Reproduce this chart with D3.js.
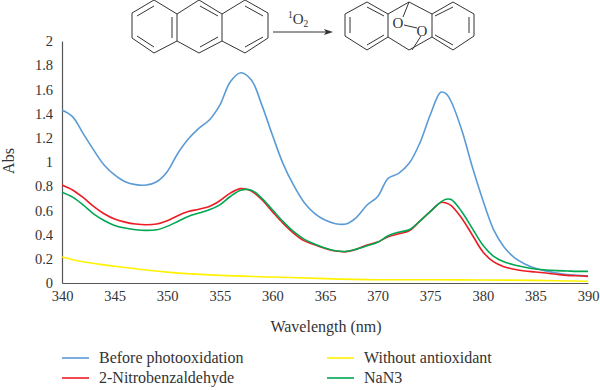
<!DOCTYPE html>
<html>
<head>
<meta charset="utf-8">
<script src="https://cdn.jsdelivr.net/npm/d3@7.9.0/dist/d3.min.js"></script>
<style>
  html, body { margin: 0; padding: 0; background: #fff; }
  svg { display: block; }
  text { font-family: "Liberation Serif", serif; fill: #333; }
</style>
</head>
<body>
<svg id="chart" width="600" height="390"></svg>
<script>
// readings
const wavelengths = [340,341,342,343,344,345,346,347,348,349,350,351,352,353,354,355,356,357,358,359,360,361,362,363,364,365,366,367,368,369,370,371,372,373,374,375,376,376.5,377,378,379,380,381,382,383,384,385,386,387,388,389,390];
const beforePhoto = [1.43,1.375,1.237,1.10,0.975,0.893,0.837,0.813,0.81,0.837,0.92,1.07,1.19,1.278,1.347,1.47,1.664,1.738,1.678,1.47,1.223,0.989,0.81,0.668,0.576,0.52,0.49,0.488,0.543,0.645,0.713,0.865,0.906,0.989,1.154,1.388,1.576,1.565,1.498,1.264,0.96,0.686,0.446,0.30,0.21,0.157,0.121,0.099,0.083,0.07,0.063,0.058];
const nitrobenz = [0.81,0.769,0.707,0.633,0.572,0.528,0.503,0.487,0.481,0.487,0.514,0.556,0.59,0.61,0.633,0.68,0.743,0.78,0.76,0.688,0.59,0.495,0.413,0.35,0.316,0.286,0.264,0.258,0.28,0.314,0.338,0.382,0.407,0.432,0.51,0.59,0.665,0.661,0.64,0.535,0.397,0.259,0.176,0.135,0.113,0.099,0.091,0.082,0.072,0.063,0.06,0.055];
const nan3 = [0.75,0.71,0.646,0.572,0.517,0.476,0.454,0.44,0.435,0.44,0.468,0.509,0.55,0.578,0.605,0.646,0.715,0.767,0.767,0.70,0.605,0.51,0.426,0.363,0.322,0.289,0.267,0.261,0.28,0.308,0.336,0.39,0.42,0.44,0.51,0.59,0.669,0.692,0.69,0.589,0.452,0.314,0.223,0.176,0.149,0.13,0.116,0.107,0.102,0.099,0.096,0.096];
const yellowWavelengths = [340,342,345,350,355,360,365,370,375,380,385,390];
const withoutAnti = [0.215,0.175,0.138,0.09,0.063,0.05,0.036,0.027,0.027,0.025,0.022,0.014];

const xTicks = [340,345,350,355,360,365,370,375,380,385,390];
const yTicks = [0,0.2,0.4,0.6,0.8,1,1.2,1.4,1.6,1.8,2];

const blue = "#5b9bd5", red = "#ed1c24", green = "#00a651", yellow = "#fff200";

const svg = d3.select("#chart");
const x = d3.scaleLinear().domain([340, 390]).range([62, 588]);
const y = d3.scaleLinear().domain([0, 2]).range([283, 41]);

// axes
const xAxis = svg.append("g").attr("transform", "translate(0,283)")
    .call(d3.axisBottom(x).tickValues(xTicks).tickSize(0).tickPadding(8).tickFormat(d3.format("d")));
const yAxis = svg.append("g").attr("transform", "translate(62,0)")
    .call(d3.axisLeft(y).tickValues(yTicks).tickSize(0).tickPadding(9).tickFormat(d => String(d)));
[xAxis, yAxis].forEach(a => {
    a.select(".domain").attr("stroke", "#555").attr("stroke-width", 1.2);
    a.selectAll("text").attr("font-size", 14.5).style("font-family", '"Liberation Serif", serif').style("fill", "#333");
});

svg.append("text").attr("x", 326).attr("y", 332).attr("text-anchor", "middle").attr("font-size", 16).text("Wavelength (nm)");
svg.append("text").attr("transform", "translate(14,161) rotate(-90)").attr("text-anchor", "middle").attr("font-size", 16).text("Abs");

// curves
const line = d3.line().curve(d3.curveCatmullRom.alpha(0.5))
    .x(d => x(d[0])).y(d => y(d[1]));
const series = [
    { xs: yellowWavelengths, ys: withoutAnti, color: yellow },
    { xs: wavelengths, ys: beforePhoto, color: blue },
    { xs: wavelengths, ys: nitrobenz, color: red },
    { xs: wavelengths, ys: nan3, color: green }
];
series.forEach(s => {
    svg.append("path")
       .attr("d", line(s.xs.map((w, i) => [w, s.ys[i]])))
       .attr("fill", "none")
       .attr("stroke", s.color)
       .attr("stroke-width", 1.6);
});

// legend
const legend = [
    ["Before photooxidation", blue, 62, 363],
    ["2-Nitrobenzaldehyde", red, 62, 383],
    ["Without antioxidant", yellow, 327, 363],
    ["NaN3", green, 327, 383]
];
legend.forEach(([name, color, lx, ly]) => {
    svg.append("line").attr("x1", lx).attr("x2", lx + 27).attr("y1", ly - 5).attr("y2", ly - 5)
       .attr("stroke", color).attr("stroke-width", 1.6);
    svg.append("text").attr("x", lx + 37).attr("y", ly).attr("font-size", 16).text(name);
});

// reaction scheme
const scheme = svg.append("g").attr("fill", "none").attr("stroke", "#333").attr("stroke-width", 1);
function path(d) { scheme.append("path").attr("d", d); }

// anthracene
path("M132,13 L154,0 L177,14 L199,0 L222,14 L245,0 L268,13 L268,38 L245,53 L222,41 L199,53 L177,41 L154,53 L132,38 Z");
path("M177,14 L177,41 M222,14 L222,41");
path("M137,16 L154,6 M137,36 L154,47 M172,17 L172,38 M200,6 L218,16 M200,47 L218,37 M245,6 L263,16 M245,47 L263,37");

// arrow
path("M273,32 L328,32");
svg.append("path").attr("d", "M333,32 L324,29 L326,32 L324,35 Z").attr("fill", "#333");
svg.append("text").attr("x", 288).attr("y", 24).attr("font-size", 15).html('<tspan font-size="9.5" dy="-6">1</tspan><tspan dy="6">O</tspan><tspan font-size="9.5" dy="3">2</tspan>');

// endoperoxide
path("M345,14 L367,2 L388,14 L388,37 L367,50 L345,36 Z");
path("M350,17 L350,33 M367,7 L384,16 M367,45 L384,35");
path("M388,14 L409,2 L432,14 L432,37 L409,50 L388,37");
path("M432,14 L453,2 L474,14 L474,36 L453,50 L432,37");
path("M435,16 L453,7 M435,35 L453,45 M469,17 L469,33");
path("M409,2 L403,17 M404,25 L417,28 M421,36 L412,50");
svg.append("text").attr("x", 398).attr("y", 28).attr("text-anchor", "middle").attr("font-size", 15).text("O");
svg.append("text").attr("x", 422).attr("y", 36).attr("text-anchor", "middle").attr("font-size", 15).text("O");
</script>
</body>
</html>
